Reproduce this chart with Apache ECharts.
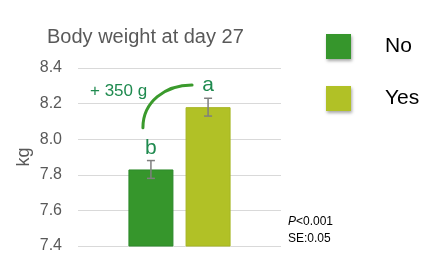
<!DOCTYPE html>
<html>
<head>
<meta charset="utf-8">
<script src="https://cdn.jsdelivr.net/npm/echarts@6/dist/echarts.min.js"></script>
<style>
html,body{margin:0;padding:0;background:#fff;}
#c{width:442px;height:266px;}
</style>
</head>
<body>
<div id="c"></div>
<script>
var categories = [''];
var groupNames = ['No', 'Yes'];
var weightNo = [7.83];
var weightYes = [8.18];
var seNo = [0.05];
var seYes = [0.05];
var lettersNo = ['b'];
var lettersYes = ['a'];
var yTicks = [7.4, 7.6, 7.8, 8.0, 8.2, 8.4];
var titleText = 'Body weight at day 27';
var diffText = '+ 350 g';

var FONT = '"Liberation Sans", Arial, sans-serif';
var BAR_W = 45, BAR_GAP = 0.27;
var colors = ['#36962c', '#b1c126'];
var borders = ['#2c8a2a', '#a5b520'];
var textGreen = '#1f8a4f';

function errSeries(vals, ses, idx) {
  var data = vals.map(function (v, i) { return [i, v, ses[i]]; });
  return {
    type: 'custom',
    z: 5,
    silent: true,
    renderItem: function (params, api) {
      var c = api.value(0), v = api.value(1), s = api.value(2);
      var top = api.coord([c, v + s]);
      var bot = api.coord([c, v - s]);
      var shift = BAR_W * (1 + BAR_GAP) / 2 * (idx === 0 ? -1 : 1);
      var x = top[0] + shift;
      var hw = 4;
      var st = { stroke: '#7f7f7f', lineWidth: 1.5 };
      return {
        type: 'group',
        children: [
          { type: 'line', shape: { x1: x, y1: top[1], x2: x, y2: bot[1] }, style: st },
          { type: 'line', shape: { x1: x - hw, y1: top[1], x2: x + hw, y2: top[1] }, style: st },
          { type: 'line', shape: { x1: x - hw, y1: bot[1], x2: x + hw, y2: bot[1] }, style: st }
        ]
      };
    },
    data: data
  };
}

function barSeries(name, vals, letters, idx) {
  return {
    name: name,
    type: 'bar',
    barWidth: BAR_W,
    barGap: (BAR_GAP * 100) + '%',
    itemStyle: { color: colors[idx], borderColor: borders[idx], borderWidth: 1 },
    label: {
      show: true,
      position: 'top',
      distance: 11,
      formatter: function (p) { return letters[p.dataIndex]; },
      fontFamily: FONT,
      fontSize: 21,
      color: textGreen
    },
    data: vals
  };
}

var chart = echarts.init(document.getElementById('c'), null, { renderer: 'canvas' });
var option = {
  animation: false,
  textStyle: { fontFamily: FONT },
  title: {
    text: titleText,
    left: 47,
    top: 27,
    padding: 0,
    textStyle: { fontFamily: FONT, fontSize: 20, fontWeight: 'normal', color: '#595959' }
  },
  legend: {
    orient: 'vertical',
    left: 326,
    top: 34,
    padding: 0,
    itemWidth: 25,
    itemHeight: 25,
    itemGap: 27,
    icon: 'rect',
    data: groupNames,
    itemStyle: { shadowBlur: 3, shadowColor: 'rgba(0,0,0,0.35)', shadowOffsetY: 2, shadowOffsetX: 1, borderWidth: 0 },
    textStyle: { fontFamily: FONT, fontSize: 21, color: '#000', padding: [0, 0, 0, 29] }
  },
  grid: { left: 78, right: 161, top: 68, bottom: 20, containLabel: false },
  xAxis: {
    type: 'category',
    data: categories,
    axisLine: { show: false },
    axisTick: { show: false },
    axisLabel: { show: false }
  },
  yAxis: {
    type: 'value',
    min: yTicks[0],
    max: yTicks[yTicks.length - 1],
    interval: 0.2,
    name: 'kg',
    nameLocation: 'middle',
    nameRotate: 90,
    nameGap: 45,
    nameTextStyle: { fontFamily: FONT, fontSize: 18, color: '#595959' },
    axisLine: { show: false },
    axisTick: { show: false },
    axisLabel: {
      margin: 16,
      fontFamily: FONT,
      fontSize: 16,
      color: '#595959',
      formatter: function (v) { return v.toFixed(1); }
    },
    splitLine: { lineStyle: { color: '#d9d9d9', width: 1 } }
  },
  series: [
    barSeries(groupNames[0], weightNo, lettersNo, 0),
    barSeries(groupNames[1], weightYes, lettersYes, 1),
    errSeries(weightNo, seNo, 0),
    errSeries(weightYes, seYes, 1)
  ]
};
chart.setOption(option);

var catX = chart.convertToPixel({ xAxisIndex: 0 }, 0);
var half = BAR_W * (1 + BAR_GAP) / 2;
var xNo = catX - half, xYes = catX + half;
var yStart = chart.convertToPixel({ yAxisIndex: 0 }, 8.065);
var yEnd = chart.convertToPixel({ yAxisIndex: 0 }, 8.305);
var x0 = xNo - 8, x1 = xYes - 16;
var yDiff = chart.convertToPixel({ yAxisIndex: 0 }, 8.27);

chart.setOption({
  graphic: [
    {
      type: 'bezierCurve',
      shape: {
        x1: x0, y1: yStart,
        cpx1: x0, cpy1: yStart - (yStart - yEnd) * 0.6,
        cpx2: x0 + (x1 - x0) * 0.45, cpy2: yEnd,
        x2: x1, y2: yEnd
      },
      style: { stroke: '#3a9a2c', lineWidth: 3, fill: null, lineCap: 'round' },
      z: 10
    },
    {
      type: 'text',
      x: 90,
      y: yDiff,
      style: {
        text: diffText,
        font: '17px ' + FONT,
        fill: textGreen,
        textVerticalAlign: 'middle'
      },
      z: 10
    },
    {
      type: 'text',
      x: 288,
      y: 213,
      style: {
        text: '{i|P}<0.001\nSE:0.05',
        font: '12px ' + FONT,
        fill: '#000',
        lineHeight: 17,
        rich: {
          i: { fontStyle: 'italic', fontSize: 12, fontFamily: FONT, fill: '#000', lineHeight: 17 }
        }
      },
      z: 10
    }
  ]
});
</script>
</body>
</html>
